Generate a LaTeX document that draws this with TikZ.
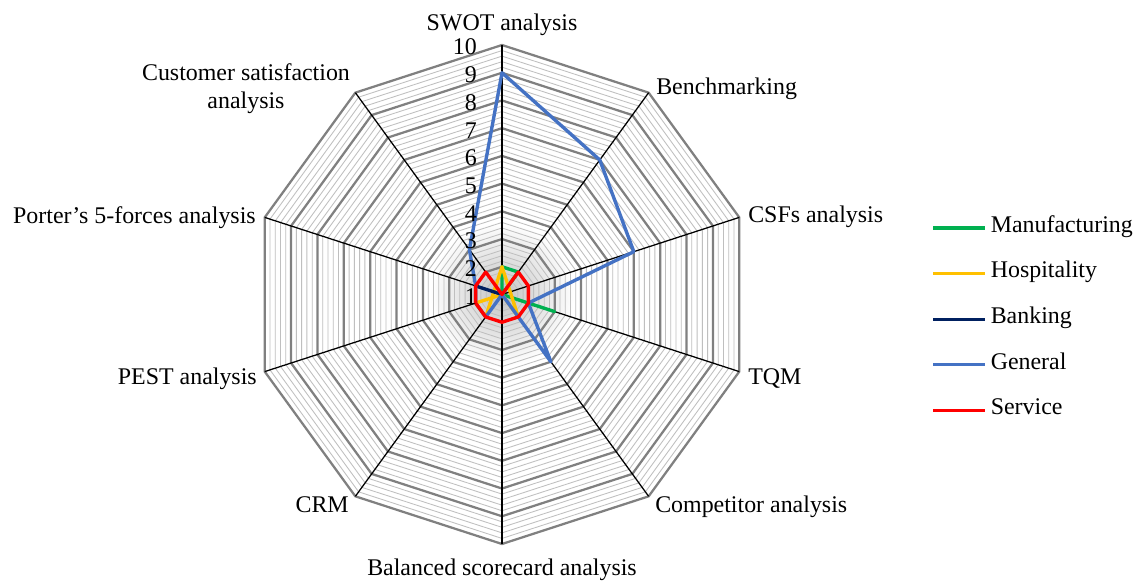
\documentclass[tikz,border=0pt]{standalone}
\usepackage{fontspec}
\setmainfont{Liberation Serif}
\definecolor{manuf}{HTML}{00B050}
\definecolor{hosp}{HTML}{FFC000}
\definecolor{bank}{HTML}{002060}
\definecolor{gen}{HTML}{4472C4}
\definecolor{serv}{HTML}{FF0000}
% one unit of the radial axis (axis runs from 1 at the hub to 10 at the rim)
\newcommand\unitr{27.72}
% closed radar polygon: style, first value (top axis), remaining nine values clockwise
\newcommand\radarline[3]{%
  \draw[series,#1] (90:{(#2-1)*\unitr}) \foreach \v [count=\i] in {#3}{ -- ({90-36*\i}:{(\v-1)*\unitr}) } -- cycle;}
\begin{document}
\begin{tikzpicture}[x=0.025cm,y=0.025cm,
  minorring/.style={draw=black!25, line width=0.6pt},
  majorring/.style={draw=black!50, line width=1.6pt},
  spoke/.style={draw=black, line width=0.9pt},
  series/.style={line width=2.4pt, line join=round},
  lbl/.style={font=\fontsize{17}{20}\selectfont, inner sep=0pt},
  legline/.style={line width=2.4pt},
]
\useasboundingbox (0,0) rectangle (1140,581);
\fill[white] (0,0) rectangle (1140,581);

\begin{scope}[shift={(502,286.5)}]
  % soft grey haze at the hub
  \shade[inner color=black!24, outer color=white] (0,0) circle (72);
  % minor gridlines every 0.2
  \foreach \m in {0,...,8}{\foreach \j in {1,...,4}{
    \pgfmathsetmacro\r{(\m+0.2*\j)*\unitr}
    \draw[minorring] (90:\r) \foreach \i in {1,...,9}{ -- ({90-36*\i}:\r)} -- cycle;
  }}
  % major gridlines every 1
  \foreach \m in {1,...,9}{
    \pgfmathsetmacro\r{\m*\unitr}
    \draw[majorring] (90:\r) \foreach \i in {1,...,9}{ -- ({90-36*\i}:\r)} -- cycle;
  }
  % spokes
  \foreach \i in {0,...,9}{
    \coordinate (tip\i) at ({90-36*\i}:{9*\unitr});
    \draw[spoke] (0,0) -- (tip\i);
  }
  % data series: SWOT, Benchmarking, CSFs, TQM, Competitor, Balanced, CRM, PEST, Porter, Customer
  \radarline{manuf}{2}{2,1,3,1,1,1,1,1,1}
  \radarline{hosp}{2}{0,0,1,1,1,1,1,1,0}
  \radarline{bank}{1}{1,1,1,1,1,1,1,2,1}
  \radarline{gen}{9}{7,6,2,4,1,2,2,2,3}
  \radarline{serv}{1}{2,2,2,2,2,2,2,2,2}
\end{scope}

% radial axis values
\foreach \k in {1,...,10}{
  \node[lbl, anchor=east] (v\k) at (477,{581-(296.5-(\k-1)*\unitr)}) {\k};
}

% category labels
\node[lbl, anchor=mid] (swot) at (502,554) {SWOT analysis};
\node[lbl, anchor=mid west] (bench) at (656,490) {Benchmarking};
\node[lbl, anchor=mid west] (csf) at (748,362) {CSFs analysis};
\node[lbl, anchor=mid west] (tqm) at (748,200) {TQM};
\node[lbl, anchor=mid west] (comp) at (655,72) {Competitor analysis};
\node[lbl, anchor=mid] (bsc) at (502,9) {Balanced scorecard analysis};
\node[lbl, anchor=mid east] (crm) at (349,72) {CRM};
\node[lbl, anchor=mid east] (pest) at (257,200) {PEST analysis};
\node[lbl, anchor=mid east] (porter) at (256,361) {Porter’s 5-forces analysis};
\node[lbl, anchor=mid, align=center] (cust) at (246,476) {Customer satisfaction\\[-0.5pt]analysis};

% legend
\foreach \s/\c/\t [count=\n from 0] in {m/manuf/Manufacturing, h/hosp/Hospitality, b/bank/Banking, g/gen/General, v/serv/Service}{
  \coordinate (l\s a) at (933,{581-228-45.6*\n});
  \coordinate (l\s b) at (985,{581-228-45.6*\n});
  \draw[legline, \c] (l\s a) -- (l\s b);
  \node[lbl, anchor=mid west] (t\s) at (990.5,{581-229-45.6*\n}) {\t};
}
\end{tikzpicture}
\end{document}
